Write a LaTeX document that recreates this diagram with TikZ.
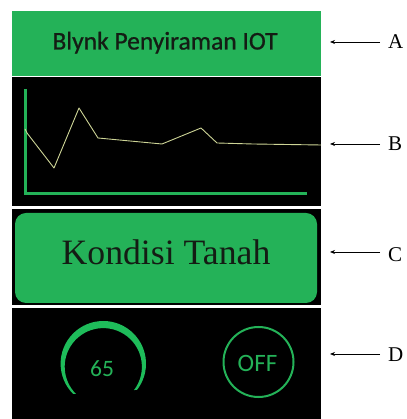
\documentclass[tikz,border=0pt]{standalone}
\usepackage{fontspec}
\setmainfont{Liberation Serif}
\newfontfamily\uifont{Carlito}
\newfontfamily\uifontheavy[FakeBold=0.8]{Carlito}
\usetikzlibrary{arrows.meta,calc}
\definecolor{bgreen}{RGB}{36,178,88}
\definecolor{ggreen}{RGB}{30,188,90}
\definecolor{plotline}{RGB}{205,212,150}
\definecolor{darktext}{RGB}{20,28,20}
\tikzset{
  panel/.style={fill=black, draw=none},
  callout/.style={draw=black, line width=0.8pt, -{Stealth[length=5pt,width=4pt]}},
  letter/.style={font=\fontsize{21}{21}\selectfont, anchor=base west, inner sep=0pt},
}
\begin{document}
\begin{tikzpicture}[x=1pt,y=1pt]
\useasboundingbox (0,0) rectangle (406,419);
\fill[white] (0,0) rectangle (406,419);
% section A
\fill[bgreen] (12,343) rectangle (321,408);
\node[anchor=base, inner sep=0pt, font=\uifontheavy\fontsize{25.5}{25.5}\selectfont, text=darktext] (title) at (165,369.5) {Blynk Penyiraman IOT};
% section B
\fill[panel] (12,342) rectangle (321,212.5);
\draw[bgreen, line width=3pt] (25,330) -- (25,225) -- (307,225);
\draw[plotline, line width=0.9pt, line join=round] (25,290) -- (27,286) -- (54,251) -- (79,311) -- (98,281) -- (162,275) -- (201,291) -- (217,276) -- (253,275) -- (321,274);
% section C
\fill[panel] (12,210) rectangle (321,113.5);
\fill[bgreen, rounded corners=11pt] (15,116) rectangle (317,206);
\node[anchor=base, inner sep=0pt, font=\fontsize{35.7}{35.7}\selectfont, text=darktext] (kondisi) at (166,154) {Kondisi Tanah};
% section D
\fill[panel] (12,111) rectangle (321,0);
\coordinate (gc) at (103.3,55.3);
\coordinate (gi) at (103.3,52.3);
\fill[ggreen] ($(gc)+(225:42.7)$) arc[start angle=225, end angle=-37.5, radius=42.7]
  -- ($(gi)+(-37.5:38.6)$) arc[start angle=-37.5, end angle=225, radius=38.6] -- cycle;
\node[anchor=base, inner sep=0pt, font=\uifont\fontsize{23.5}{23.5}\selectfont, text=bgreen] (val) at (102,42) {65};
\node[circle, draw=bgreen, line width=2pt, minimum size=70pt, inner sep=0pt] (btn) at (258.5,57) {};
\node[anchor=base, inner sep=0pt, font=\uifont\fontsize{25}{25}\selectfont, text=bgreen] (off) at (257.5,47) {OFF};
% callouts
\node[letter] (la) at (388,370.7) {A};
\node[letter] (lb) at (388,268) {B};
\node[letter] (lc) at (388,157) {C};
\node[letter] (ld) at (388,57) {D};
\coordinate (pa) at (330,377);
\coordinate (pb) at (330,275);
\coordinate (pc) at (330,167);
\coordinate (pd) at (330,65);
\draw[callout] (la.west |- pa) ++(-8,0) -- (pa);
\draw[callout] (lb.west |- pb) ++(-8,0) -- (pb);
\draw[callout] (lc.west |- pc) ++(-8,0) -- (pc);
\draw[callout] (ld.west |- pd) ++(-8,0) -- (pd);
\end{tikzpicture}
\end{document}
